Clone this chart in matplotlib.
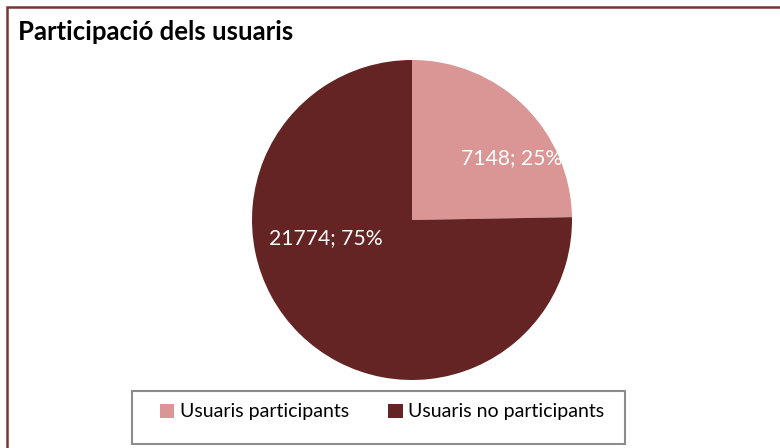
import matplotlib
matplotlib.use("Agg")
import matplotlib.pyplot as plt
from matplotlib.patches import Rectangle, Patch

categories = ["Usuaris participants", "Usuaris no participants"]
values = [7148, 21774]
colors = ["#d99694", "#632423"]
title = "Participació dels usuaris"

plt.rcParams['font.family'] = ['Lato', 'DejaVu Sans']

W, H = 780, 448
fig = plt.figure(figsize=(W / 100, H / 100), dpi=100)
fig.patch.set_facecolor("white")

# outer frame
fig.add_artist(Rectangle((7 / W, -0.05), 1.1, (H - 7) / H + 0.05, transform=fig.transFigure,
                         fill=False, edgecolor="#7b3535", linewidth=1.8))

cx, cy, r = 412, 220, 160
ax = fig.add_axes([(cx - r) / W, (H - cy - r) / H, 2 * r / W, 2 * r / H])
wedges, _ = ax.pie(values, colors=colors, startangle=90, counterclock=False,
                   radius=1, wedgeprops=dict(linewidth=0))
ax.set_xlim(-1, 1)
ax.set_ylim(-1, 1)
ax.set_aspect("equal")
ax.axis("off")

total = sum(values)
label_pos = [(0.625, 0.39), (-0.54, -0.11)]
for v, (lx, ly) in zip(values, label_pos):
    ax.text(lx, ly, f"{v}; {round(100 * v / total)}%", color="white",
            fontsize=15.2, ha="center", va="center")

fig.text(18 / W, 1 - 32 / H, title, fontsize=18.5, fontweight="bold",
         ha="left", va="center", color="black")

# legend box
fig.add_artist(Rectangle((132 / W, 1 - 444 / H), (625 - 132) / W, (444 - 391) / H,
                         transform=fig.transFigure, fill=False,
                         edgecolor="#8c8c8c", linewidth=1.5))
handles = [Patch(facecolor=c, edgecolor="none") for c in colors]
fig.legend(handles, categories, loc="center", bbox_to_anchor=(382 / W, 1 - 412 / H),
           ncol=2, frameon=False, fontsize=14, handlelength=0.75, handleheight=0.75,
           handletextpad=0.3, columnspacing=2.0)

fig.savefig("out.png", dpi=100)
